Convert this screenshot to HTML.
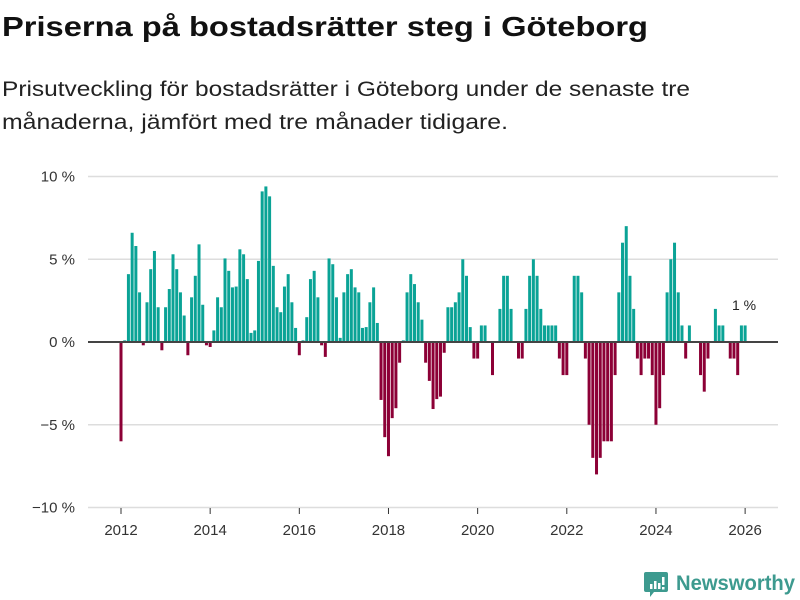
<!DOCTYPE html>
<html><head><meta charset="utf-8"><style>
html,body{margin:0;padding:0;background:#fff;}
svg{display:block;font-family:"Liberation Sans",sans-serif;}
</style></head><body>
<svg id="chart" width="800" height="600" viewBox="0 0 800 600">
<text x="2" y="36" font-size="28" font-weight="bold" fill="#111" textLength="646" lengthAdjust="spacingAndGlyphs">Priserna på bostadsrätter steg i Göteborg</text>
<text x="2" y="96" font-size="21" fill="#222" textLength="688" lengthAdjust="spacingAndGlyphs">Prisutveckling för bostadsrätter i Göteborg under de senaste tre</text>
<text x="2" y="129" font-size="21" fill="#222" textLength="506" lengthAdjust="spacingAndGlyphs">månaderna, jämfört med tre månader tidigare.</text>
<g id="grid"></g>
<g id="bars"></g>
<g id="axes"></g>
<text x="744" y="310" font-size="14" fill="#222" text-anchor="middle">1 %</text>
<g>
<path d="M646 572 h20 a2 2 0 0 1 2 2 v16 a2 2 0 0 1 -2 2 h-12 l-4 5 v-5 h-4 a2 2 0 0 1 -2 -2 v-16 a2 2 0 0 1 2 -2z" fill="#3d9a8f"/>
<rect x="650" y="584" width="2.5" height="5" fill="#fff"/><rect x="654" y="581" width="2.5" height="8" fill="#fff"/><rect x="658" y="583" width="2.5" height="6" fill="#fff"/><rect x="662" y="577" width="2.5" height="8" fill="#fff"/><rect x="662" y="587" width="2.5" height="2.5" fill="#fff"/>
<text x="676" y="590" font-size="21" font-weight="bold" fill="#3d9a8f" textLength="119" lengthAdjust="spacingAndGlyphs">Newsworthy</text>
</g>
</svg>
<script>
const values = [-6,0.1,4.1,6.6,5.8,3.0,-0.2,2.4,4.4,5.5,2.1,-0.5,
2.1,3.2,5.3,4.4,3.0,1.6,-0.8,2.7,4.0,5.9,2.25,-0.2,
-0.3,0.7,2.7,2.1,5.05,4.3,3.3,3.35,5.6,5.3,3.8,0.55,
0.7,4.9,9.1,9.4,8.8,4.6,2.1,1.8,3.35,4.1,2.4,0.85,
-0.8,0.1,1.5,3.8,4.3,2.7,-0.2,-0.9,5.05,4.7,2.7,0.25,
3.0,4.1,4.4,3.3,3.0,0.85,0.9,2.4,3.3,1.15,-3.5,-5.75,
-6.9,-4.6,-4.0,-1.25,0.1,3.0,4.1,3.5,2.4,1.35,-1.25,-2.35,
-4.05,-3.45,-3.3,-0.65,2.1,2.1,2.4,3.0,5.0,4.0,0.9,-1,
-1,1,1,0,-2,0,2,4,4,2,0,-1,
-1,2,4,5,4,2,1,1,1,1,-1,-2,
-2,0,4,4,3,-1,-5,-7,-8,-7,-6,-6,
-6,-2,3,6,7,4,2,-1,-2,-1,-1,-2,
-5,-4,-2,3,5,6,3,1,-1,1,0,0,
-2,-3,-1,0,2,1,1,0,-1,-1,-2,1,1];
const startYear = 2012;
const yTicks = [10,5,0,-5,-10];
const yTickLabels = ["10 %","5 %","0 %","\u22125 %","\u221210 %"];
const xTicks = [2012,2014,2016,2018,2020,2022,2024,2026];

const NS="http://www.w3.org/2000/svg";
const y = v => 342 - v*16.55;
const x = mIdx => 121 + mIdx*3.715;
const xYear = yr => x((yr-startYear)*12);
function mk(tag, attrs, parent){const e=document.createElementNS(NS,tag);for(const k in attrs)e.setAttribute(k,attrs[k]);parent.appendChild(e);return e;}
const grid=document.getElementById('grid'), bars=document.getElementById('bars'), axes=document.getElementById('axes');
yTicks.forEach((t,i)=>{
  if(t!==0){const l=mk('line',{x1:88,x2:778,y1:y(t),y2:y(t),stroke:'#dddddd','stroke-width':1.5},grid);
  
  }
  const tx=mk('text',{x:75,y:y(t)+5,'font-size':15,fill:'#333','text-anchor':'end'},axes);
  tx.textContent=yTickLabels[i];
  
  
});
values.forEach((v,i)=>{
  if(v===0)return;
  const top=Math.min(y(v),y(0)), h=Math.abs(y(v)-y(0));
  const r=mk('rect',{x:x(i)-1.5,y:top,width:3,height:h,fill:v>0?'#0aa396':'#8c0036'},bars);
  
  
});
const zl=mk('line',{x1:88,x2:778,y1:y(0),y2:y(0),stroke:'#444','stroke-width':2},axes);


xTicks.forEach(yr=>{
  const tl=mk('line',{x1:xYear(yr),x2:xYear(yr),y1:508,y2:514,stroke:'#333','stroke-width':1},axes);
  
  
  const tx=mk('text',{x:xYear(yr),y:535,'font-size':15,fill:'#333','text-anchor':'middle'},axes);
  tx.textContent=yr;
  
  
});
</script>
</body></html>
